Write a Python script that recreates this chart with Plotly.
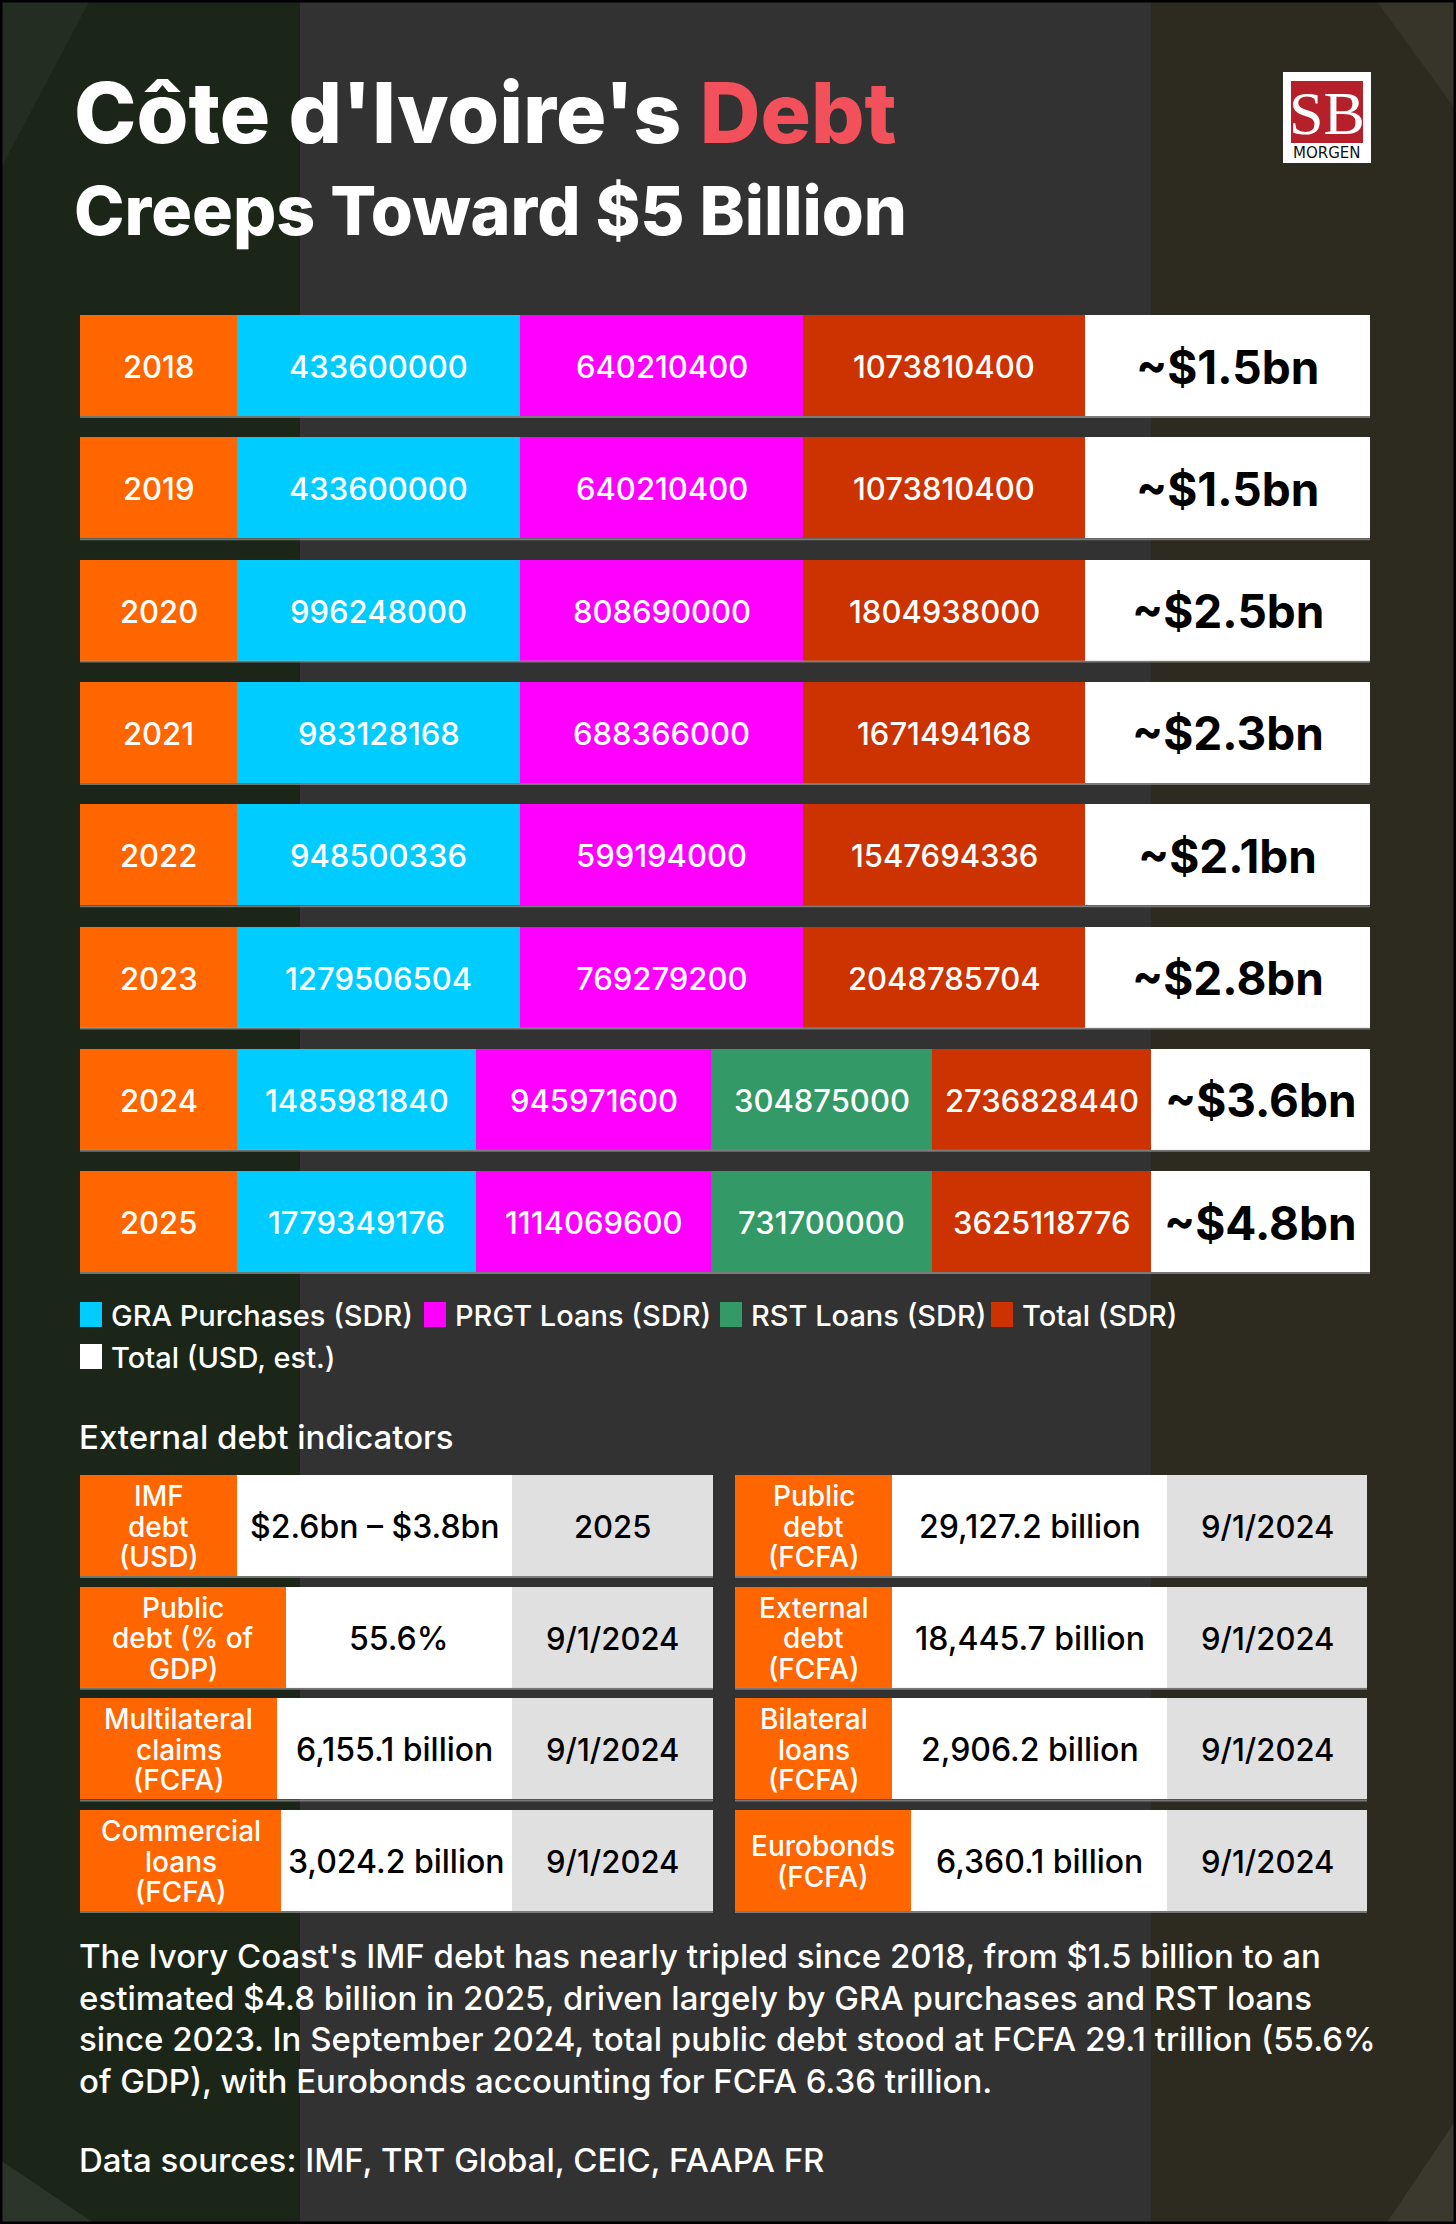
import plotly.graph_objects as go

W, H = 1456, 2224

# ---------------- data ----------------
years = ["2018", "2019", "2020", "2021", "2022", "2023", "2024", "2025"]
gra_sdr = [433600000, 433600000, 996248000, 983128168, 948500336, 1279506504, 1485981840, 1779349176]
prgt_sdr = [640210400, 640210400, 808690000, 688366000, 599194000, 769279200, 945971600, 1114069600]
rst_sdr = [None, None, None, None, None, None, 304875000, 731700000]
total_sdr = [1073810400, 1073810400, 1804938000, 1671494168, 1547694336, 2048785704, 2736828440, 3625118776]
total_usd = ["~$1.5bn", "~$1.5bn", "~$2.5bn", "~$2.3bn", "~$2.1bn", "~$2.8bn", "~$3.6bn", "~$4.8bn"]

legend_names = ["GRA Purchases (SDR)", "PRGT Loans (SDR)", "RST Loans (SDR)", "Total (SDR)", "Total (USD, est.)"]

ind_left_labels = ["IMF<br>debt<br>(USD)", "Public<br>debt (% of<br>GDP)", "Multilateral<br>claims<br>(FCFA)", "Commercial<br>loans<br>(FCFA)"]
ind_left_values = ["$2.6bn – $3.8bn", "55.6%", "6,155.1 billion", "3,024.2 billion"]
ind_left_dates = ["2025", "9/1/2024", "9/1/2024", "9/1/2024"]
ind_right_labels = ["Public<br>debt<br>(FCFA)", "External<br>debt<br>(FCFA)", "Bilateral<br>loans<br>(FCFA)", "Eurobonds<br>(FCFA)"]
ind_right_values = ["29,127.2 billion", "18,445.7 billion", "2,906.2 billion", "6,360.1 billion"]
ind_right_dates = ["9/1/2024", "9/1/2024", "9/1/2024", "9/1/2024"]

title_1 = "Côte d'Ivoire's "
title_red = "Debt"
title_2 = "Creeps Toward $5 Billion"
section_title = "External debt indicators"
paragraph_lines = [
    "The Ivory Coast's IMF debt has nearly tripled since 2018, from $1.5 billion to an",
    "estimated $4.8 billion in 2025, driven largely by GRA purchases and RST loans",
    "since 2023. In September 2024, total public debt stood at FCFA 29.1 trillion (55.6%",
    "of GDP), with Eurobonds accounting for FCFA 6.36 trillion.",
]
sources = "Data sources: IMF, TRT Global, CEIC, FAAPA FR"

# ---------------- styles / layout ----------------
FONT = "Inter"
C_YEAR = "#ff6600"
C_GRA = "#00ccff"
C_PRGT = "#ff00ff"
C_RST = "#339966"
C_TOT = "#cc3300"
C_USD = "#ffffff"
C_RED_TITLE = "#f2505a"
C_DATE = "#e0e0e0"

ROW_TOP0, ROW_H, ROW_STEP = 315, 101, 122.3
EDGES_4 = [80, 237, 520, 803, 1085, 1370]
EDGES_5 = [80, 237, 476, 711, 932, 1151, 1370]

fig = go.Figure()
shapes = []
ann = []

# background bands
shapes += [
    dict(type="rect", x0=0, x1=W, y0=0, y1=H, fillcolor="#323232", line_width=0, layer="below"),
    dict(type="rect", x0=0, x1=300, y0=0, y1=H, fillcolor="#1b2619", line_width=0, layer="below"),
    dict(type="rect", x0=1151, x1=W, y0=0, y1=H, fillcolor="#2d2a1f", line_width=0, layer="below"),
    dict(type="path", path="M 0 0 L 90 0 L 0 170 Z", fillcolor="rgba(255,255,255,0.035)", line_width=0, layer="below"),
    dict(type="path", path=f"M {W-80} 0 L {W} 0 L {W} 110 Z", fillcolor="rgba(255,255,255,0.05)", line_width=0, layer="below"),
    dict(type="path", path=f"M 0 2160 L 95 {H} L 0 {H} Z", fillcolor="rgba(255,255,255,0.07)", line_width=0, layer="below"),
    dict(type="path", path=f"M {W} 2120 L {W} {H} L {W-70} {H} Z", fillcolor="rgba(255,255,255,0.07)", line_width=0, layer="below"),
]

# ---------------- main rows (bars) ----------------
series = {k: dict(x=[], base=[], y=[], color=c) for k, c in
          [("year", C_YEAR), ("gra", C_GRA), ("prgt", C_PRGT), ("rst", C_RST), ("tot", C_TOT), ("usd", C_USD)]}

for i, yr in enumerate(years):
    yc = ROW_TOP0 + i * ROW_STEP + ROW_H / 2
    has_rst = rst_sdr[i] is not None
    edges = EDGES_5 if has_rst else EDGES_4
    keys = ["year", "gra", "prgt"] + (["rst"] if has_rst else []) + ["tot", "usd"]
    texts = [yr, str(gra_sdr[i]), str(prgt_sdr[i])] + ([str(rst_sdr[i])] if has_rst else []) + [str(total_sdr[i]), total_usd[i]]
    for j, k in enumerate(keys):
        x0, x1 = edges[j], edges[j + 1]
        series[k]["x"].append(x1 - x0)
        series[k]["base"].append(x0)
        series[k]["y"].append(yc)
        if k == "usd":
            ann.append(dict(x=(x0 + x1) / 2, y=yc + 1, text=texts[j], showarrow=False, xanchor="center", yanchor="middle",
                            font=dict(family=FONT, size=46, color="#000000", weight=700)))
        else:
            ann.append(dict(x=(x0 + x1) / 2, y=yc + 1, text=texts[j], showarrow=False, xanchor="center", yanchor="middle",
                            font=dict(family=FONT, size=31, color="#ffffff", weight=500)))
    shapes.append(dict(type="line", x0=80, x1=1370, y0=yc + ROW_H / 2 + 1, y1=yc + ROW_H / 2 + 1,
                       line=dict(color="rgba(170,170,170,0.6)", width=2)))

for k, s in series.items():
    fig.add_trace(go.Bar(orientation="h", x=s["x"], base=s["base"], y=s["y"], width=ROW_H,
                         marker=dict(color=s["color"], line_width=0), showlegend=False, hoverinfo="skip"))

# ---------------- legend ----------------
leg_colors = [C_GRA, C_PRGT, C_RST, C_TOT, C_USD]
leg_pos = [(80, 1314), (424, 1314), (720, 1314), (991, 1314), (80, 1356)]
for (lx, ly), name, col in zip(leg_pos, legend_names, leg_colors):
    shapes.append(dict(type="rect", x0=lx, x1=lx + 22, y0=ly - 12, y1=ly + 13, fillcolor=col, line_width=0))
    ann.append(dict(x=lx + 29, y=ly + 1, text=name, showarrow=False, xanchor="left", yanchor="middle",
                    font=dict(family=FONT, size=29, color="#ffffff", weight=500)))

# ---------------- indicators ----------------
ann.append(dict(x=77, y=1437, text=section_title, showarrow=False, xanchor="left", yanchor="middle",
                font=dict(family=FONT, size=33, color="#ffffff", weight=500)))

T_TOP, T_H, T_STEP = 1475, 101, 111.7
blocks = [
    dict(x0=80, lab_w=[157, 206, 197, 201], val_end=512, x1=713,
         labels=ind_left_labels, values=ind_left_values, dates=ind_left_dates),
    dict(x0=735, lab_w=[157, 157, 157, 176], val_end=1167, x1=1367,
         labels=ind_right_labels, values=ind_right_values, dates=ind_right_dates),
]
tb = dict(lab=dict(x=[], base=[], y=[], color=C_YEAR), val=dict(x=[], base=[], y=[], color="#ffffff"),
          date=dict(x=[], base=[], y=[], color=C_DATE))
LINE_GAP = 30.5
for b in blocks:
    for r in range(4):
        yc = T_TOP + r * T_STEP + T_H / 2
        le = b["x0"] + b["lab_w"][r]
        for key, a0, a1 in [("lab", b["x0"], le), ("val", le, b["val_end"]), ("date", b["val_end"], b["x1"])]:
            tb[key]["x"].append(a1 - a0)
            tb[key]["base"].append(a0)
            tb[key]["y"].append(yc)
        lines = b["labels"][r].split("<br>")
        n = len(lines)
        for li, txt in enumerate(lines):
            ann.append(dict(x=(b["x0"] + le) / 2, y=yc + (li - (n - 1) / 2) * LINE_GAP + 1, text=txt, showarrow=False,
                            xanchor="center", yanchor="middle",
                            font=dict(family=FONT, size=28, color="#ffffff", weight=500)))
        ann.append(dict(x=(le + b["val_end"]) / 2, y=yc + 1, text=b["values"][r], showarrow=False,
                        xanchor="center", yanchor="middle", font=dict(family=FONT, size=32, color="#000000", weight=500)))
        ann.append(dict(x=(b["val_end"] + b["x1"]) / 2, y=yc + 1, text=b["dates"][r], showarrow=False,
                        xanchor="center", yanchor="middle", font=dict(family=FONT, size=31, color="#000000", weight=500)))
        shapes.append(dict(type="line", x0=b["x0"], x1=b["x1"], y0=yc + T_H / 2 + 1, y1=yc + T_H / 2 + 1,
                           line=dict(color="rgba(170,170,170,0.6)", width=2)))

for key, s in tb.items():
    fig.add_trace(go.Bar(orientation="h", x=s["x"], base=s["base"], y=s["y"], width=T_H,
                         marker=dict(color=s["color"], line_width=0), showlegend=False, hoverinfo="skip"))

# ---------------- paragraph ----------------
for li, txt in enumerate(paragraph_lines):
    ann.append(dict(x=77, y=1956 + li * 41.6, text=txt, showarrow=False, xanchor="left", yanchor="middle",
                    font=dict(family=FONT, size=33, color="#ffffff", weight=500)))
ann.append(dict(x=77, y=2160, text=sources, showarrow=False, xanchor="left", yanchor="middle",
                font=dict(family=FONT, size=33, color="#ffffff", weight=500)))

# ---------------- title ----------------
ann.append(dict(x=72, y=112, text=f"{title_1}<span style='color:{C_RED_TITLE}'>{title_red}</span>", showarrow=False,
                xanchor="left", yanchor="middle", font=dict(family=FONT, size=84, color="#ffffff", weight=800)))
ann.append(dict(x=72, y=210, text=title_2, showarrow=False, xanchor="left", yanchor="middle",
                font=dict(family=FONT, size=68, color="#ffffff", weight=800)))

# ---------------- logo ----------------
shapes += [
    dict(type="rect", x0=1283, x1=1371, y0=72, y1=163, fillcolor="#ffffff", line_width=0),
    dict(type="rect", x0=1291, x1=1363, y0=81, y1=143, fillcolor="#b5202a", line_width=0),
]
ann.append(dict(x=1327, y=113, text="SB", showarrow=False, xanchor="center", yanchor="middle",
                font=dict(family="Liberation Serif", size=62, color="#ffffff")))
ann.append(dict(x=1327, y=153, text="MORGEN", showarrow=False, xanchor="center", yanchor="middle",
                font=dict(family="DejaVu Sans", size=15, color="#111111")))

# border
shapes.append(dict(type="rect", x0=0, x1=W, y0=0, y1=H, line=dict(color="#000000", width=5), fillcolor="rgba(0,0,0,0)"))

fig.update_layout(
    width=W, height=H, margin=dict(l=0, r=0, t=0, b=0),
    paper_bgcolor="#323232", plot_bgcolor="rgba(0,0,0,0)",
    xaxis=dict(range=[0, W], visible=False, fixedrange=True),
    yaxis=dict(range=[H, 0], visible=False, fixedrange=True),
    barmode="overlay", bargap=0,
    shapes=shapes, annotations=ann, showlegend=False,
)
fig.write_html("out.html", config={"displayModeBar": False},
               post_script="document.body.style.margin='0px';document.body.style.overflow='hidden';")
